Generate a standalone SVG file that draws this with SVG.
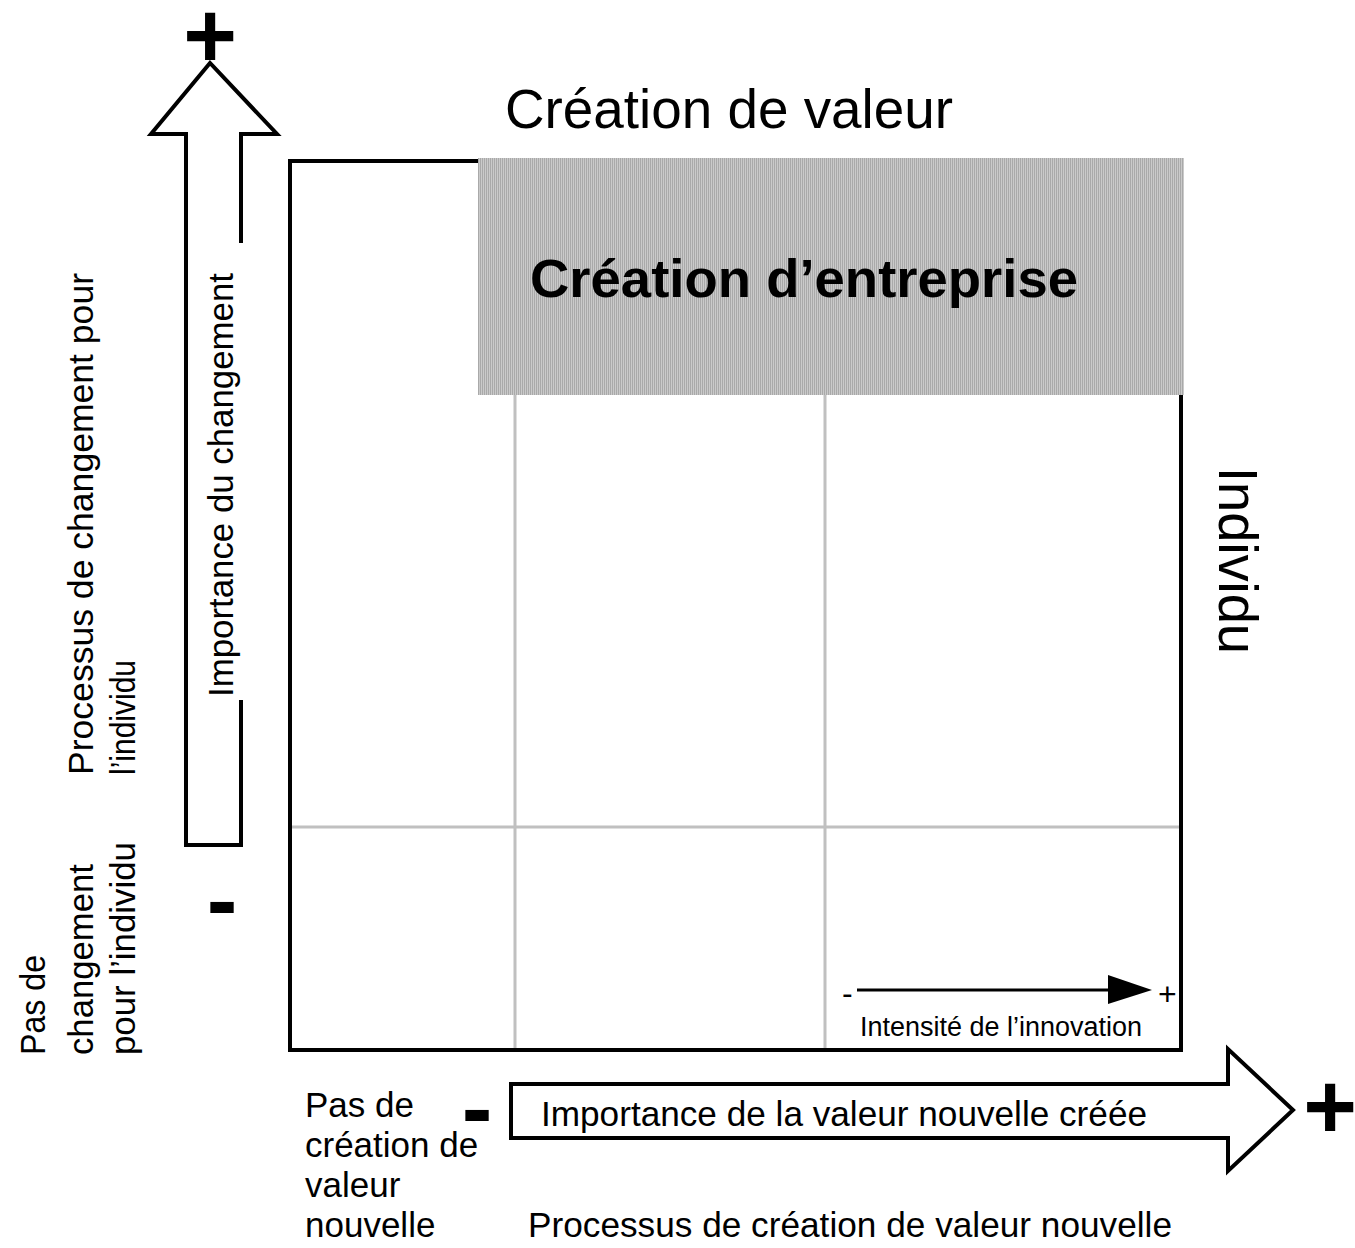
<svg xmlns="http://www.w3.org/2000/svg" width="1355" height="1248" viewBox="0 0 1355 1248">
  <style>
    text { font-family: "Liberation Sans", Arial, sans-serif; fill: #000; }
    .t35 { font-size: 35px; }
    .big { font-size: 92px; font-weight: bold; text-anchor: middle; }
    .grid { stroke: #c0c0c0; stroke-width: 3; fill: none; }
    .frame { stroke: #000; stroke-width: 4; fill: none; }
    .arrow { stroke: #000; stroke-width: 4; fill: #fff; stroke-linejoin: miter; }
  </style>
  <defs>
    <pattern id="stripes" patternUnits="userSpaceOnUse" x="0" y="0" width="2" height="2">
      <rect x="0" y="0" width="1" height="2" fill="#a9a9a9"/>
      <rect x="1" y="0" width="1" height="2" fill="#cacaca"/>
    </pattern>
  </defs>
  <rect width="1355" height="1248" fill="#fff"/>

  <g id="title">
    <text x="505" y="128" style="font-size:55px" textLength="448" lengthAdjust="spacingAndGlyphs">Création de valeur</text>
  </g>

  <g id="matrix">
    <line class="grid" x1="515" y1="394" x2="515" y2="1050"/>
    <line class="grid" x1="825" y1="394" x2="825" y2="1050"/>
    <line class="grid" x1="290" y1="827" x2="1181" y2="827"/>
    <path class="frame" d="M478,161 L290,161 L290,1050 L1181,1050 L1181,394"/>
  </g>

  <g id="creation-entreprise">
    <rect x="478" y="158" width="706" height="237" fill="url(#stripes)"/>
    <text x="530" y="297" style="font-size:54px;font-weight:bold" textLength="548" lengthAdjust="spacingAndGlyphs">Création d’entreprise</text>
  </g>

  <g id="individu">
    <text transform="translate(1219,467) rotate(90)" style="font-size:55px" textLength="187" lengthAdjust="spacingAndGlyphs">Individu</text>
  </g>

  <g id="axis-vertical">
    <polygon class="arrow" points="186,845 186,134 151,134 210,63 277,134 241,134 241,845"/>
    <rect x="236" y="243" width="10" height="457" fill="#fff"/>
    <text class="t35" transform="translate(233,697) rotate(-90)" textLength="424" lengthAdjust="spacingAndGlyphs">Importance du changement</text>
    <text class="big" x="210" y="67">+</text>
    <text class="big" x="222" y="932">-</text>
  </g>

  <g id="label-change">
    <text class="t35" transform="translate(93,775) rotate(-90)" textLength="502" lengthAdjust="spacingAndGlyphs">Processus de changement pour</text>
    <text class="t35" transform="translate(135,775) rotate(-90)" textLength="115" lengthAdjust="spacingAndGlyphs">l’individu</text>
  </g>

  <g id="label-no-change">
    <text class="t35" transform="translate(45,1055) rotate(-90)" textLength="100" lengthAdjust="spacingAndGlyphs">Pas de</text>
    <text class="t35" transform="translate(93,1055) rotate(-90)" textLength="191" lengthAdjust="spacingAndGlyphs">changement</text>
    <text class="t35" transform="translate(135,1055) rotate(-90)" textLength="213" lengthAdjust="spacingAndGlyphs">pour l’individu</text>
  </g>

  <g id="axis-horizontal">
    <polygon class="arrow" points="511,1084 1228,1084 1228,1049 1293,1110 1228,1171 1228,1138 511,1138"/>
    <text class="t35" x="541" y="1126" textLength="606" lengthAdjust="spacingAndGlyphs">Importance de la valeur nouvelle créée</text>
    <text class="big" x="477" y="1140">-</text>
    <text class="big" x="1330" y="1138">+</text>
  </g>

  <g id="label-no-value">
    <text class="t35" x="305" y="1117">Pas de</text>
    <text class="t35" x="305" y="1157">création de</text>
    <text class="t35" x="305" y="1197">valeur</text>
    <text class="t35" x="305" y="1237">nouvelle</text>
  </g>

  <g id="label-value-process">
    <text class="t35" x="528" y="1237" textLength="644" lengthAdjust="spacingAndGlyphs">Processus de création de valeur nouvelle</text>
  </g>

  <g id="connectors">
    <line x1="857" y1="990" x2="1108" y2="990" stroke="#000" stroke-width="3"/>
    <polygon points="1108,975 1152,990 1108,1004" fill="#000"/>
  </g>

  <g id="innovation-legend">
    <text x="842" y="1004" style="font-size:32px">-</text>
    <text x="1158" y="1005" style="font-size:32px">+</text>
    <text x="860" y="1036" style="font-size:27px" textLength="282" lengthAdjust="spacingAndGlyphs">Intensité de l’innovation</text>
  </g>
</svg>
